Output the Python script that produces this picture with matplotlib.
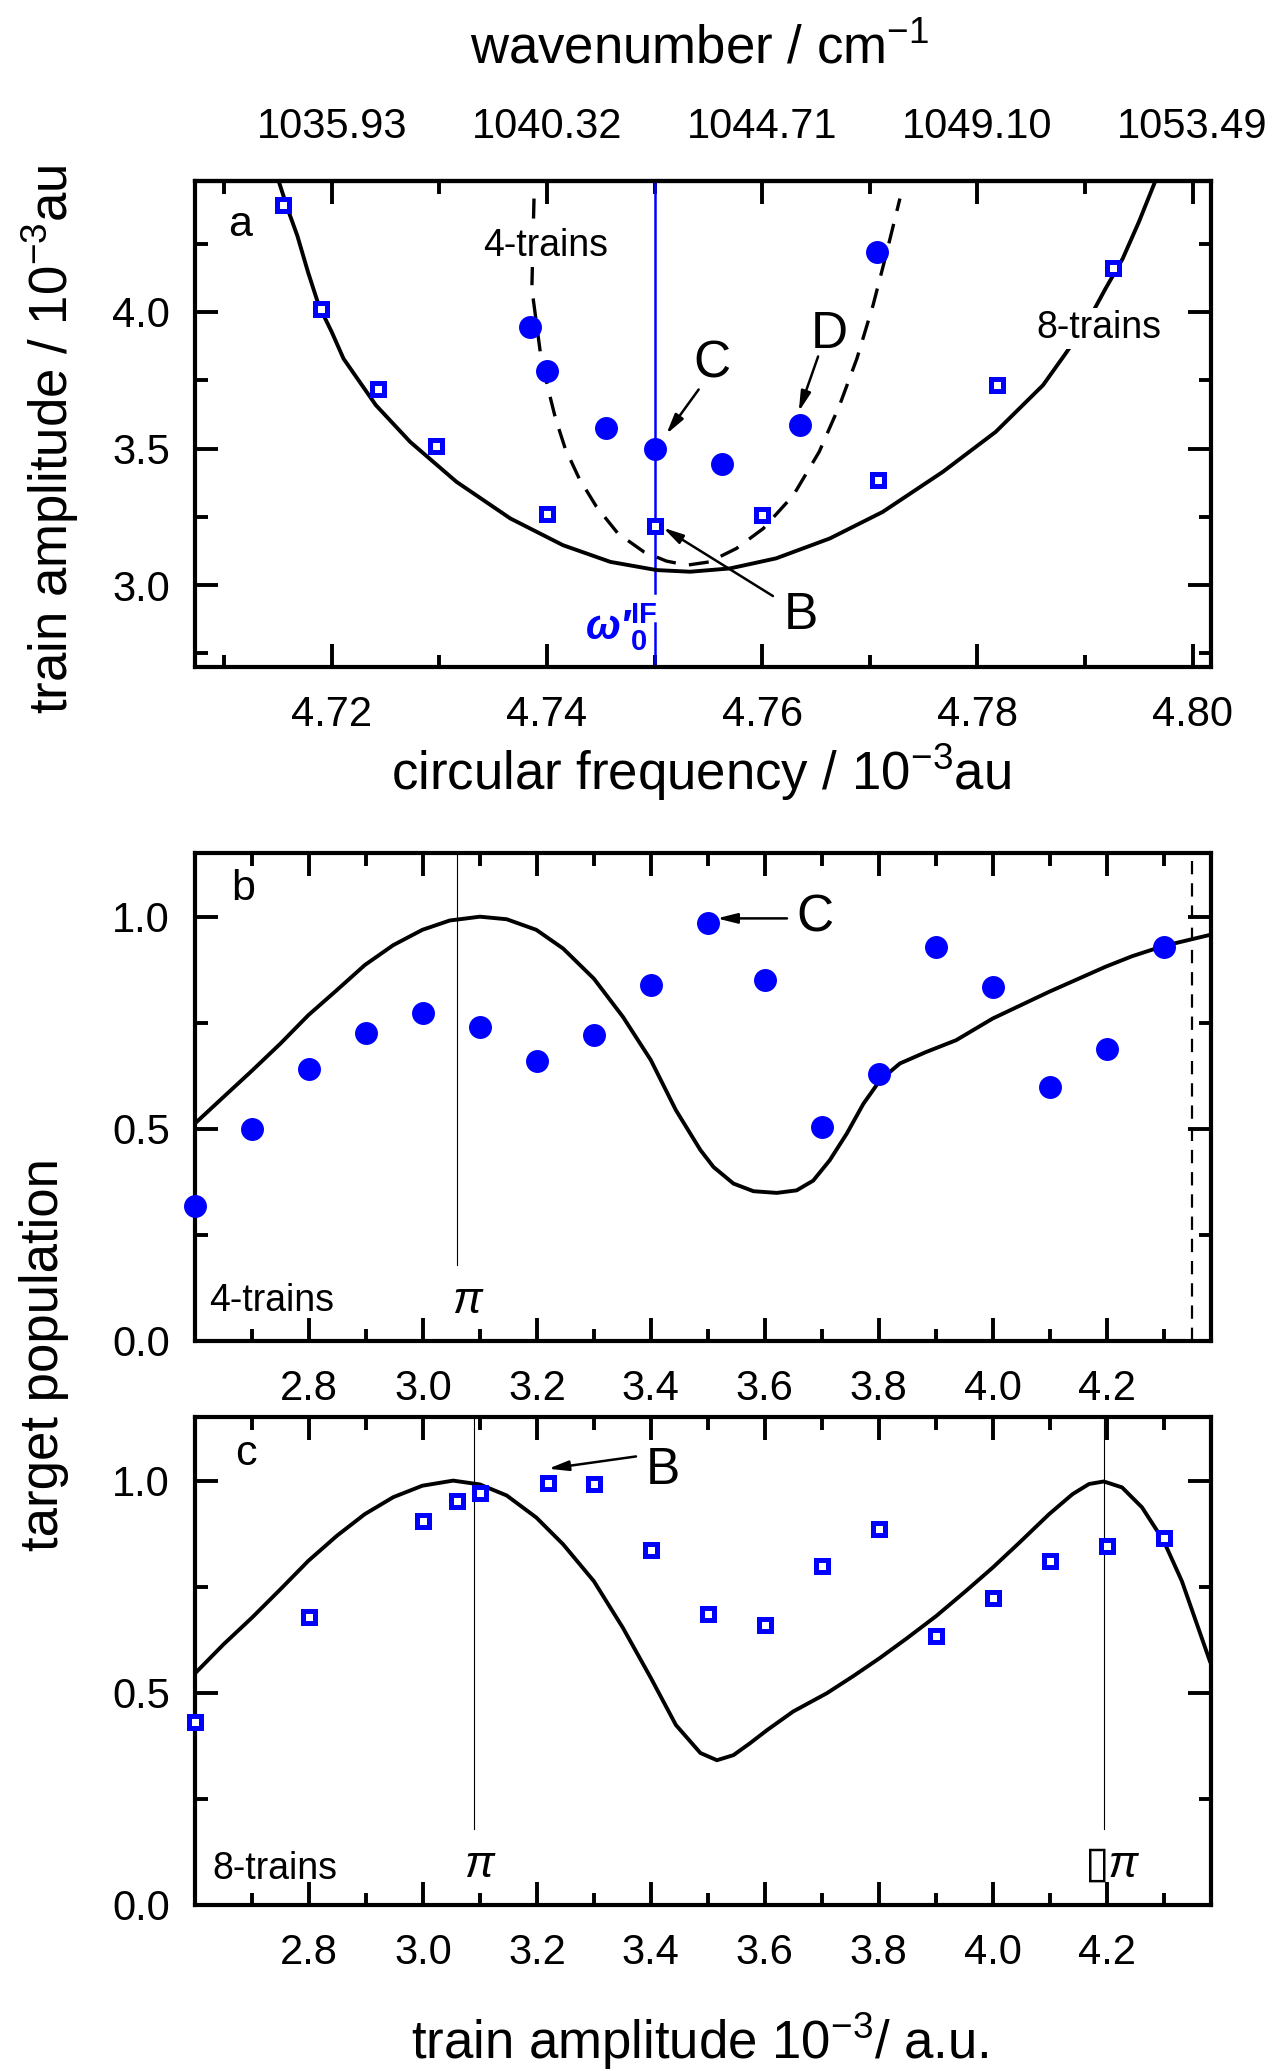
import numpy as np
import matplotlib.pyplot as plt
from matplotlib.ticker import FixedLocator

plt.rcParams['font.family'] = ['Liberation Sans', 'DejaVu Sans']
plt.rcParams['mathtext.fontset'] = 'custom'
plt.rcParams['mathtext.rm'] = 'Liberation Sans'
plt.rcParams['mathtext.it'] = 'Liberation Sans:italic'
plt.rcParams['mathtext.bf'] = 'Liberation Sans:bold'
plt.rcParams['mathtext.default'] = 'regular'

## panel a data
a_sq_freq = [4.7155, 4.7190, 4.7243, 4.7297, 4.7400, 4.7500, 4.7600, 4.7708, 4.7818, 4.7926]
a_sq_amp = [4.390, 4.009, 3.717, 3.510, 3.262, 3.216, 3.256, 3.385, 3.734, 4.159]
a_ci_freq = [4.7384, 4.7400, 4.7455, 4.7500, 4.7563, 4.7635, 4.7707]
a_ci_amp = [3.944, 3.784, 3.576, 3.500, 3.445, 3.585, 4.220]

a_fit8_freq = [4.7151, 4.7159, 4.7168, 4.7178, 4.7188, 4.7200, 4.7211, 4.7241, 4.7273, 4.7316,
               4.7366, 4.7415, 4.7459, 4.7502, 4.7533, 4.7570, 4.7613, 4.7663, 4.7712, 4.7768,
               4.7817, 4.7861, 4.7882, 4.7904, 4.7919, 4.7935, 4.7950, 4.7965]
a_fit8_amp = [4.476, 4.378, 4.280, 4.146, 4.024, 3.927, 3.829, 3.659, 3.524, 3.378,
              3.244, 3.146, 3.085, 3.055, 3.049, 3.061, 3.098, 3.171, 3.268, 3.415,
              3.561, 3.732, 3.848, 3.976, 4.085, 4.195, 4.329, 4.476]
a_fit4_freq = [4.7388, 4.7386, 4.7394, 4.7401, 4.7408, 4.7417, 4.7430, 4.7446, 4.7466, 4.7490,
               4.7511, 4.7530, 4.7551, 4.7576, 4.7601, 4.7629, 4.7653, 4.7672, 4.7688, 4.7703,
               4.7715, 4.7728]
a_fit4_amp = [4.415, 4.085, 3.848, 3.720, 3.610, 3.500, 3.390, 3.287, 3.189, 3.122,
              3.088, 3.073, 3.085, 3.134, 3.207, 3.329, 3.488, 3.659, 3.829, 4.024,
              4.207, 4.415]

a_xticks = [4.72, 4.74, 4.76, 4.78, 4.80]
a_xlabels = ['4.72', '4.74', '4.76', '4.78', '4.80']
wavenumber_labels = ['1035.93', '1040.32', '1044.71', '1049.10', '1053.49']
omega0 = 4.75

## panel b data (4-trains)
b_amp = [2.6, 2.7, 2.8, 2.9, 3.0, 3.1, 3.2, 3.3, 3.4, 3.5, 3.6, 3.7, 3.8, 3.9, 4.0, 4.1, 4.2, 4.3]
b_pop = [0.319, 0.500, 0.640, 0.725, 0.774, 0.740, 0.659, 0.720, 0.840, 0.986, 0.850, 0.504,
         0.630, 0.929, 0.835, 0.599, 0.689, 0.929]
b_fit_amp = [2.601, 2.650, 2.700, 2.750, 2.799, 2.849, 2.898, 2.948, 2.999, 3.047, 3.100, 3.147,
             3.199, 3.246, 3.300, 3.351, 3.400, 3.444, 3.487, 3.510, 3.545, 3.580, 3.621, 3.656,
             3.685, 3.714, 3.744, 3.773, 3.802, 3.837, 3.883, 3.936, 4.000, 4.099, 4.198, 4.245,
             4.300, 4.381]
b_fit_pop = [0.514, 0.575, 0.637, 0.701, 0.768, 0.827, 0.886, 0.933, 0.969, 0.991, 1.000, 0.994,
             0.969, 0.925, 0.854, 0.764, 0.662, 0.544, 0.450, 0.410, 0.371, 0.353, 0.349, 0.355,
             0.378, 0.426, 0.489, 0.559, 0.614, 0.654, 0.681, 0.709, 0.760, 0.823, 0.882, 0.907,
             0.931, 0.957]
b_pi = 3.059
b_dash = 4.35

## panel c data (8-trains)
c_amp = [2.6, 2.8, 3.0, 3.06, 3.1, 3.22, 3.3, 3.4, 3.5, 3.6, 3.7, 3.8, 3.9, 4.0, 4.1, 4.2, 4.3]
c_pop = [0.432, 0.679, 0.905, 0.951, 0.972, 0.994, 0.992, 0.836, 0.685, 0.659, 0.799, 0.885,
         0.633, 0.724, 0.811, 0.846, 0.864]
c_fit_amp = [2.601, 2.650, 2.700, 2.750, 2.799, 2.849, 2.898, 2.948, 2.999, 3.053, 3.100, 3.147,
             3.199, 3.246, 3.300, 3.351, 3.400, 3.444, 3.487, 3.516, 3.545, 3.574, 3.604, 3.650,
             3.709, 3.755, 3.802, 3.849, 3.901, 3.953, 4.000, 4.047, 4.099, 4.140, 4.169, 4.195,
             4.227, 4.262, 4.300, 4.332, 4.381]
c_fit_pop = [0.547, 0.614, 0.677, 0.744, 0.811, 0.870, 0.921, 0.961, 0.988, 1.000, 0.991, 0.965,
             0.913, 0.850, 0.763, 0.653, 0.535, 0.424, 0.358, 0.341, 0.353, 0.381, 0.412, 0.456,
             0.499, 0.539, 0.582, 0.628, 0.681, 0.740, 0.795, 0.854, 0.921, 0.968, 0.992, 0.998,
             0.984, 0.937, 0.858, 0.763, 0.575]
c_pi = [3.089, 4.195]

bc_xticks = [2.8, 3.0, 3.2, 3.4, 3.6, 3.8, 4.0, 4.2]
bc_xlabels = ['2.8', '3.0', '3.2', '3.4', '3.6', '3.8', '4.0', '4.2']
bc_xminor = [2.7, 2.9, 3.1, 3.3, 3.5, 3.7, 3.9, 4.1, 4.3]

blue = '#0000ff'
tick_fs = 30
lab_fs = 38
sq_style = dict(marker='s', ls='none', ms=9, mfc='white', mec=blue, mew=3.6, zorder=5, clip_on=False)
ci_style = dict(marker='o', ls='none', ms=15.5, color=blue, zorder=5, clip_on=False)

fig = plt.figure(figsize=(12.72, 20.71), dpi=100)
ax_a = fig.add_axes([0.1533, 0.6779, 0.7987, 0.2348])
ax_b = fig.add_axes([0.1533, 0.3525, 0.7987, 0.2356])
ax_c = fig.add_axes([0.1533, 0.0802, 0.7987, 0.2356])

def style(ax):
    for s in ax.spines.values():
        s.set_linewidth(3)
    ax.tick_params(which='both', direction='in', top=True, right=True, width=2.8,
                   labelsize=tick_fs)
    ax.tick_params(which='major', length=16.5)
    ax.tick_params(which='minor', length=9)
    ax.tick_params(axis='x', pad=20)
    ax.tick_params(axis='y', pad=18)

## ---- panel a
style(ax_a)
ax_a.set_xlim(4.7073, 4.8017)
ax_a.set_ylim(2.70, 4.48)
ax_a.set_xticks(a_xticks, a_xlabels)
ax_a.xaxis.set_minor_locator(FixedLocator([4.71, 4.73, 4.75, 4.77, 4.79]))
ax_a.set_yticks([3.0, 3.5, 4.0], ['3.0', '3.5', '4.0'])
ax_a.yaxis.set_minor_locator(FixedLocator([2.75, 3.25, 3.75, 4.25]))
ax_a.tick_params(top=False, which='both')
top = ax_a.secondary_xaxis('top')
top.set_xticks(a_xticks, wavenumber_labels)
top.xaxis.set_minor_locator(FixedLocator([4.71, 4.73, 4.75, 4.77, 4.79]))
top.spines['top'].set_linewidth(3)
top.tick_params(which='both', direction='in', width=2.8, labelsize=tick_fs, pad=24)
top.tick_params(which='major', length=16.5)
top.tick_params(which='minor', length=9)

ax_a.plot([omega0, omega0], [2.971, 4.48], color=blue, lw=1.8, zorder=2)
ax_a.plot([omega0, omega0], [2.70, 2.862], color=blue, lw=1.8, zorder=2)
ax_a.plot(a_fit8_freq, a_fit8_amp, 'k-', lw=2.8, zorder=3)
ax_a.plot(a_fit4_freq, a_fit4_amp, 'k--', lw=2.4, dashes=(6, 4), zorder=3)
ax_a.plot(a_sq_freq, a_sq_amp, **sq_style)
ax_a.plot(a_ci_freq, a_ci_amp, **ci_style)

bb = dict(facecolor='white', edgecolor='none', pad=2)
ax_a.text(4.7115, 4.32, 'a', fontsize=31, ha='center', va='center')
ax_a.text(4.7399, 4.24, '4-trains', fontsize=27, ha='center', va='center', bbox=bb, zorder=4)
ax_a.text(4.7913, 3.94, '8-trains', fontsize=27, ha='center', va='center', bbox=bb, zorder=4)
# omega'_0^IF label, left of the blue line
ax_a.text(4.7502, 2.800, 'ω′$^{\\mathbf{IF}}_{\\mathbf{0}}$', color=blue, fontsize=30,
          fontstyle='italic', fontweight='bold', ha='right', va='baseline')

arr = dict(arrowstyle='-|>,head_length=1.2,head_width=0.3', color='k', lw=1.8, shrinkA=0, shrinkB=0)
ax_a.text(4.7553, 3.81, 'C', fontsize=37, ha='center', va='center')
ax_a.annotate('', xy=(4.7511, 3.553), xytext=(4.7541, 3.716), arrowprops=arr)
ax_a.text(4.7662, 3.918, 'D', fontsize=37, ha='center', va='center')
ax_a.annotate('', xy=(4.7634, 3.635), xytext=(4.7652, 3.837), arrowprops=arr)
ax_a.text(4.7636, 2.89, 'B', fontsize=37, ha='center', va='center')
ax_a.annotate('', xy=(4.7508, 3.21), xytext=(4.7610, 2.96), arrowprops=arr)

## ---- panels b, c
for ax in (ax_b, ax_c):
    style(ax)
    ax.set_xlim(2.6, 4.383)
    ax.set_ylim(0.0, 1.15)
    ax.set_xticks(bc_xticks, bc_xlabels)
    ax.xaxis.set_minor_locator(FixedLocator(bc_xminor))
    ax.set_yticks([0.0, 0.5, 1.0], ['0.0', '0.5', '1.0'])
    ax.yaxis.set_minor_locator(FixedLocator([0.25, 0.75]))

ax_b.plot([b_pi, b_pi], [0.178, 1.15], 'k-', lw=0.8)
ax_b.plot([b_dash, b_dash], [0.0, 1.15], 'k--', lw=1.6, dashes=(6, 4))
ax_b.plot(b_fit_amp, b_fit_pop, 'k-', lw=2.8, zorder=3)
ax_b.plot(b_amp, b_pop, **ci_style)
ax_b.text(2.684, 1.066, 'b', fontsize=31, ha='center', va='center')
ax_b.text(2.735, 0.094, '4-trains', fontsize=27, ha='center', va='center')
ax_b.text(3.077, 0.092, 'π', fontsize=32, fontstyle='italic', ha='center', va='center')
ax_b.text(3.688, 0.996, 'C', fontsize=37, ha='center', va='center')
ax_b.annotate('', xy=(3.516, 0.996), xytext=(3.639, 0.996), arrowprops=arr)

ax_c.plot([c_pi[0], c_pi[0]], [0.18, 1.15], 'k-', lw=0.8)
ax_c.plot([c_pi[1], c_pi[1]], [0.18, 1.15], 'k-', lw=0.8)
ax_c.plot(c_fit_amp, c_fit_pop, 'k-', lw=2.8, zorder=3)
ax_c.plot(c_amp, c_pop, **sq_style)
ax_c.text(2.689, 1.0625, 'c', fontsize=31, ha='center', va='center')
ax_c.text(2.74, 0.084, '8-trains', fontsize=27, ha='center', va='center')
ax_c.text(3.099, 0.094, 'π', fontsize=32, fontstyle='italic', ha='center', va='center')
ax_c.text(4.21, 0.094, '▯π', fontsize=32, fontstyle='italic', ha='center', va='center')
ax_c.text(3.421, 1.024, 'B', fontsize=37, ha='center', va='center')
ax_c.annotate('', xy=(3.22, 1.028), xytext=(3.374, 1.057), arrowprops=arr)

## ---- axis labels
fig.text(0.550, 0.976, 'wavenumber / cm$^{-1}$', fontsize=lab_fs, ha='center', va='center')
fig.text(0.551, 0.6268, 'circular frequency / 10$^{-3}$au', fontsize=lab_fs, ha='center', va='center')
fig.text(0.0393, 0.788, 'train amplitude / 10$^{-3}$au', fontsize=lab_fs, rotation=90,
         ha='center', va='center')
fig.text(0.0343, 0.346, 'target population', fontsize=lab_fs, rotation=90, ha='center', va='center')
fig.text(0.550, 0.0145, 'train amplitude 10$^{-3}$/ a.u.', fontsize=lab_fs, ha='center', va='center')

fig.savefig('out.png', dpi=100)
